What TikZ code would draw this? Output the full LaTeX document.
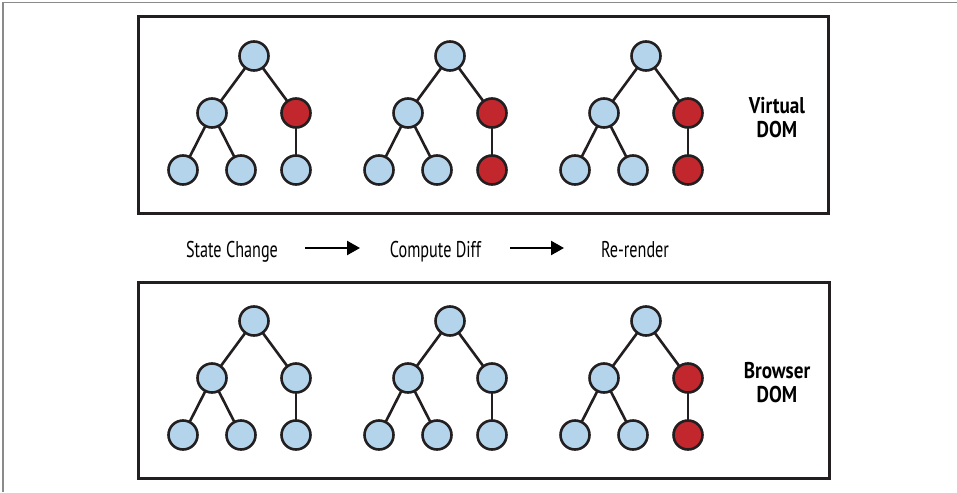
\documentclass[tikz,border=0pt]{standalone}
\usepackage{fontspec}
\setmainfont{PT Sans}[FakeStretch=0.71]
\newfontfamily\labelfont{PT Sans}[FakeStretch=0.84]
\usetikzlibrary{arrows.meta}
\definecolor{ink}{HTML}{231F20}
\definecolor{nodeblue}{HTML}{B3D4EB}
\definecolor{nodered}{HTML}{C1272D}
\definecolor{framegrey}{HTML}{8A8A8A}
\tikzset{
  dnode/.style={circle, draw=ink, line width=2.6pt, minimum size=29pt, inner sep=0pt},
  bnode/.style={dnode, fill=nodeblue},
  rnode/.style={dnode, fill=nodered},
  edge/.style={draw=ink, line width=2.6pt, shorten <=-1pt, shorten >=-1pt},
  panel/.style={draw=ink, line width=3pt},
  steptext/.style={font=\fontsize{22.8}{24}\selectfont, inner sep=0pt, anchor=base},
  paneltext/.style={font=\labelfont\bfseries\fontsize{22.8}{24}\selectfont, align=center, inner sep=0pt, anchor=base},
  flow/.style={draw=black, line width=2.4pt, -{Triangle[length=13pt,width=14pt]}}
}
\newcommand{\mktree}[9]{%
  % #1 prefix, #2 x of root, #3 y of root, #4..#9 styles for nodes r,a,b,c,d,e
  \node[#4] (#1r) at (#2,#3) {};
  \node[#5] (#1a) at (#2-42,#3+57) {};
  \node[#6] (#1b) at (#2+42,#3+57) {};
  \node[#7] (#1c) at (#2-71,#3+114) {};
  \node[#8] (#1d) at (#2-13,#3+114) {};
  \node[#9] (#1e) at (#2+42,#3+114) {};
  \draw[edge] (#1r) -- (#1a);
  \draw[edge] (#1r) -- (#1b);
  \draw[edge] (#1a) -- (#1c);
  \draw[edge] (#1a) -- (#1d);
  \draw[edge] (#1b) -- (#1e);
}
\begin{document}
\begin{tikzpicture}[x=1pt,y=-1pt]
\useasboundingbox (0,0) rectangle (957,492);
\fill[white] (0,0) rectangle (957,492);
% outer grey frame
\draw[framegrey, line width=1.5pt] (3,492) -- (3,2.5) -- (957,2.5);
% panels
\draw[panel] (138,17) rectangle (828,213);
\draw[panel] (138,282) rectangle (829,478);
% trees
\mktree{ta}{254}{56}{bnode}{bnode}{rnode}{bnode}{bnode}{bnode}
\mktree{tb}{450}{56}{bnode}{bnode}{rnode}{bnode}{bnode}{rnode}
\mktree{tc}{646}{56}{bnode}{bnode}{rnode}{bnode}{bnode}{rnode}
\mktree{ba}{254}{321}{bnode}{bnode}{bnode}{bnode}{bnode}{bnode}
\mktree{bb}{450}{321}{bnode}{bnode}{bnode}{bnode}{bnode}{bnode}
\mktree{bc}{646}{321}{bnode}{bnode}{rnode}{bnode}{bnode}{rnode}
% panel labels (base anchor sits on the last line)
\node[paneltext] (vdom) at (777,137) {Virtual\\DOM};
\node[paneltext] (bdom) at (777,402) {Browser\\DOM};
% flow row
\node[steptext] (s1) at (232,257) {State Change};
\node[steptext] (s2) at (435.5,257) {Compute Diff};
\node[steptext] (s3) at (635,257) {Re-render};
\coordinate (a1s) at (305,248);
\coordinate (a1e) at (360,248);
\coordinate (a2s) at (510,248);
\coordinate (a2e) at (564,248);
\draw[flow] (a1s) -- (a1e);
\draw[flow] (a2s) -- (a2e);
\end{tikzpicture}
\end{document}
